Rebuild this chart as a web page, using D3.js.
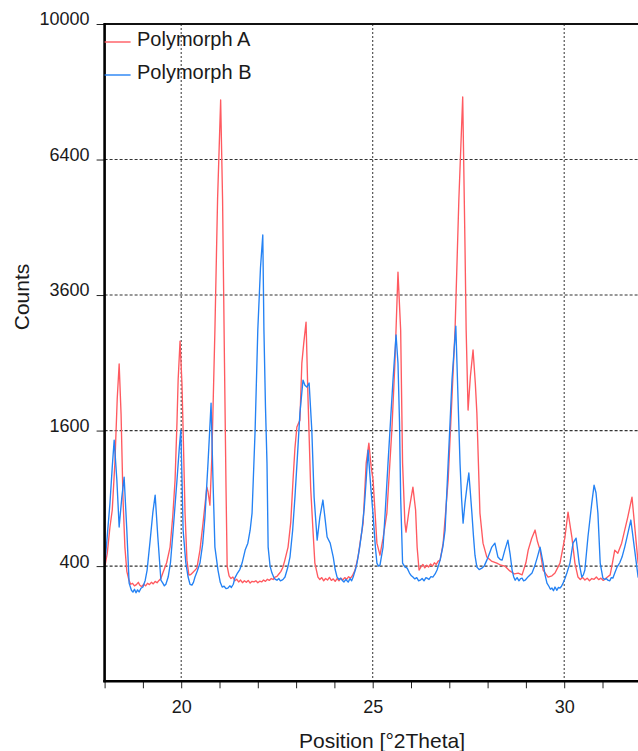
<!DOCTYPE html>
<html>
<head>
<meta charset="utf-8">
<script src="https://cdn.jsdelivr.net/npm/d3@7"></script>
<style>
  body { margin: 0; background: #fff; }
  svg { display: block; }
  text { font-family: "Liberation Sans", Arial, sans-serif; fill: #1a1a1a; }
</style>
</head>
<body>
<svg id="chart" width="638" height="751"></svg>
<script>
// Diffraction patterns of the two polymorphs (position in °2θ, intensity in counts)
const seriesNames = ["Polymorph A", "Polymorph B"];

const posA = [18.01,18.07,18.14,18.20,18.27,18.33,18.38,18.43,18.48,18.53,18.58,18.63,18.68,18.73,18.78,18.83,18.88,18.92,18.97,19.02,19.07,19.12,19.17,19.22,19.27,19.32,19.37,19.42,19.47,19.52,19.62,19.71,19.78,19.84,19.89,19.92,19.97,20.02,20.05,20.10,20.15,20.20,20.25,20.31,20.41,20.49,20.57,20.67,20.70,20.75,20.80,20.88,20.95,21.03,21.08,21.13,21.17,21.20,21.25,21.30,21.35,21.40,21.45,21.50,21.55,21.60,21.65,21.70,21.75,21.80,21.85,21.90,21.95,22.00,22.05,22.10,22.15,22.20,22.25,22.30,22.35,22.40,22.45,22.50,22.55,22.60,22.65,22.70,22.79,22.86,22.92,22.97,23.02,23.10,23.15,23.20,23.26,23.31,23.38,23.44,23.49,23.57,23.62,23.67,23.72,23.77,23.82,23.87,23.92,23.97,24.02,24.07,24.12,24.17,24.22,24.27,24.32,24.37,24.42,24.47,24.54,24.62,24.67,24.75,24.83,24.90,24.96,25.01,25.11,25.19,25.27,25.37,25.50,25.58,25.66,25.73,25.78,25.84,25.87,25.95,26.05,26.12,26.16,26.21,26.26,26.31,26.36,26.41,26.46,26.51,26.56,26.61,26.66,26.71,26.76,26.84,26.97,27.07,27.15,27.25,27.35,27.41,27.44,27.49,27.55,27.62,27.68,27.72,27.80,27.88,27.98,28.10,28.24,28.35,28.45,28.58,28.70,28.80,28.90,29.00,29.06,29.15,29.24,29.30,29.37,29.45,29.58,29.68,29.76,29.89,30.02,30.10,30.20,30.28,30.36,30.42,30.48,30.54,30.60,30.66,30.72,30.78,30.84,30.90,30.96,31.02,31.08,31.14,31.20,31.26,31.32,31.40,31.50,31.66,31.77,31.85,31.93,32.00];
const cntA = [400,480,664,800,1250,2000,2482,1800,900,520,370,325,300,305,292,298,310,295,288,300,292,305,298,310,302,315,308,320,330,360,420,520,750,1069,1700,2252,2831,2200,1606,774,436,349,352,365,388,500,694,1002,960,841,1300,3000,5500,7882,5500,2500,1000,400,345,330,338,318,326,312,322,308,318,310,320,306,315,312,318,308,316,312,322,315,326,320,330,325,338,342,355,368,390,430,520,700,1069,1400,1642,1726,2496,2800,3137,2020,1000,641,418,338,325,335,318,330,322,336,320,328,315,330,318,332,322,335,326,340,332,345,377,460,547,694,1239,1456,1200,1069,547,467,580,774,1606,2496,4018,3006,1239,700,626,800,1002,800,520,377,395,410,390,405,395,412,400,420,410,430,436,547,1069,2020,3006,5500,7962,4500,3006,1851,2300,2692,2200,1813,774,547,455,430,418,405,400,372,355,360,350,420,500,580,641,560,500,377,338,345,360,418,590,782,590,418,338,325,336,322,332,318,330,326,338,324,332,320,330,340,350,420,500,480,547,741,911,641,418,380];

const posB = [18.01,18.07,18.14,18.20,18.25,18.32,18.38,18.45,18.51,18.58,18.64,18.70,18.74,18.78,18.82,18.86,18.90,18.95,19.00,19.06,19.11,19.19,19.26,19.32,19.39,19.47,19.52,19.56,19.60,19.66,19.72,19.79,19.89,19.95,19.99,20.02,20.05,20.12,20.18,20.23,20.28,20.32,20.36,20.42,20.49,20.56,20.62,20.70,20.78,20.83,20.88,20.96,21.02,21.07,21.12,21.17,21.22,21.27,21.31,21.36,21.40,21.47,21.53,21.59,21.67,21.74,21.80,21.85,21.93,22.00,22.07,22.13,22.16,22.20,22.24,22.27,22.32,22.37,22.42,22.46,22.50,22.55,22.59,22.63,22.67,22.71,22.78,22.84,22.91,22.97,23.04,23.10,23.18,23.23,23.28,23.34,23.41,23.47,23.55,23.62,23.70,23.76,23.81,23.89,23.97,24.02,24.07,24.12,24.16,24.20,24.25,24.30,24.36,24.41,24.45,24.49,24.55,24.59,24.66,24.72,24.78,24.83,24.88,24.95,25.01,25.07,25.11,25.15,25.19,25.27,25.33,25.40,25.47,25.53,25.61,25.66,25.70,25.73,25.78,25.84,25.90,25.96,26.01,26.05,26.10,26.15,26.20,26.24,26.29,26.34,26.39,26.42,26.47,26.52,26.57,26.63,26.68,26.76,26.83,26.89,26.97,27.02,27.07,27.17,27.20,27.24,27.28,27.32,27.36,27.41,27.46,27.51,27.55,27.59,27.63,27.67,27.72,27.78,27.85,27.91,27.98,28.05,28.11,28.19,28.27,28.33,28.38,28.45,28.53,28.59,28.64,28.68,28.72,28.77,28.82,28.86,28.90,28.94,28.98,29.06,29.16,29.23,29.30,29.37,29.45,29.50,29.55,29.60,29.64,29.68,29.72,29.76,29.81,29.85,29.89,29.93,29.97,30.02,30.07,30.15,30.23,30.31,30.35,30.39,30.46,30.50,30.54,30.62,30.72,30.78,30.83,30.88,30.94,31.01,31.06,31.10,31.14,31.19,31.23,31.27,31.32,31.38,31.45,31.51,31.58,31.64,31.74,31.83,31.93,32.00];
const cntB = [418,600,858,1200,1490,1069,664,911,1098,641,306,270,261,275,258,272,262,280,286,320,377,568,780,929,590,321,306,292,300,338,420,641,1069,1400,1606,1100,641,420,338,300,296,310,338,372,418,540,741,1239,1941,1069,520,377,310,286,290,278,281,292,284,300,332,360,380,418,500,547,640,774,1606,3006,4100,4742,3006,1900,1239,520,400,360,335,325,321,330,318,321,328,338,390,455,640,911,1350,1813,2252,2180,2155,2210,1606,911,568,741,885,720,590,547,455,380,338,325,332,321,312,325,311,330,318,338,380,418,520,641,820,1069,1378,1000,760,520,418,400,406,520,800,1239,1750,2252,2927,2496,1700,911,418,395,388,360,345,338,328,335,318,321,330,318,335,332,325,340,338,355,377,436,520,641,1239,1700,2252,3071,2496,1800,1239,900,694,860,1002,1138,950,774,600,467,394,380,388,400,436,480,520,547,455,440,436,500,568,470,377,340,321,335,318,330,332,318,321,340,360,400,455,520,418,350,306,290,275,281,268,286,270,284,281,290,306,330,360,418,547,582,500,418,338,350,377,590,858,1021,950,774,418,332,325,330,321,318,335,332,360,394,420,455,520,590,718,520,338,320];

const yTicks = [400, 1600, 3600, 6400, 10000];
const xLabelTicks = [20, 25, 30];
const xMinorTicks = d3.range(18, 33, 1);

const colors = ["#ff5a60", "#2482f4"];

const svg = d3.select("#chart");
const plot = { left: 104.6, top: 24, right: 640.8, bottom: 681.3 };

const x = d3.scaleLinear().domain([18, 32]).range([plot.left, plot.right]);
const y = d3.scaleSqrt().domain([9, 10000]).range([plot.bottom, plot.top]);

svg.append("defs").append("clipPath").attr("id", "plot-clip")
  .append("rect")
  .attr("x", plot.left).attr("y", plot.top)
  .attr("width", plot.right - plot.left).attr("height", plot.bottom - plot.top);

// grid: dashed horizontals, dotted verticals
const grid = svg.append("g");
grid.selectAll("line.h").data(yTicks.filter(v => v < 10000)).join("line")
  .attr("x1", plot.left).attr("x2", plot.right)
  .attr("y1", d => y(d)).attr("y2", d => y(d))
  .attr("stroke", "#333").attr("stroke-width", 1.1).attr("stroke-dasharray", "3,2");
grid.selectAll("line.v").data(xLabelTicks).join("line")
  .attr("x1", d => x(d)).attr("x2", d => x(d))
  .attr("y1", plot.top).attr("y2", plot.bottom)
  .attr("stroke", "#444").attr("stroke-width", 1.1).attr("stroke-dasharray", "2,2");

// patterns
const series = [
  posA.map((p, i) => [p, cntA[i]]),
  posB.map((p, i) => [p, cntB[i]])
];
const line = d3.line().x(d => x(d[0])).y(d => y(d[1]));
svg.append("g").attr("clip-path", "url(#plot-clip)")
  .selectAll("path").data(series).join("path")
  .attr("d", line)
  .attr("fill", "none")
  .attr("stroke", (d, i) => colors[i])
  .attr("stroke-width", 1.35)
  .attr("stroke-linejoin", "round");

// frame: top, left, bottom
svg.append("line").attr("x1", plot.left).attr("x2", plot.right)
  .attr("y1", plot.top).attr("y2", plot.top)
  .attr("stroke", "#111").attr("stroke-width", 2);

// y axis
const yAxis = d3.axisLeft(y).tickValues(yTicks).tickSize(8).tickPadding(7).tickFormat(d3.format("d"));
const gy = svg.append("g").attr("transform", `translate(${plot.left},0)`).call(yAxis);
gy.select(".domain").remove();
gy.selectAll(".tick line").attr("stroke", "#222").attr("stroke-width", 1);
gy.selectAll(".tick text").attr("font-size", 18).attr("dy", "0.05em").attr("fill", "#1a1a1a")
  .attr("font-family", '"Liberation Sans", Arial, sans-serif');

svg.append("line").attr("x1", plot.left).attr("x2", plot.left)
  .attr("y1", plot.top - 1).attr("y2", plot.bottom + 1)
  .attr("stroke", "#000").attr("stroke-width", 2.6);

// x axis: minor ticks every degree, labels every 5°
const xAxis = d3.axisBottom(x).tickValues(xMinorTicks).tickSize(7)
  .tickFormat(d => xLabelTicks.includes(d) ? d : "").tickPadding(12);
const gx = svg.append("g").attr("transform", `translate(0,${plot.bottom})`).call(xAxis);
gx.select(".domain").remove();
gx.selectAll(".tick line").attr("stroke", "#222").attr("stroke-width", 1);
gx.selectAll(".tick text").attr("font-size", 18).attr("fill", "#1a1a1a")
  .attr("font-family", '"Liberation Sans", Arial, sans-serif');

svg.append("line").attr("x1", plot.left - 1.3).attr("x2", plot.right)
  .attr("y1", plot.bottom).attr("y2", plot.bottom)
  .attr("stroke", "#000").attr("stroke-width", 2.6);

// axis titles
svg.append("text")
  .attr("transform", `translate(29,297) rotate(-90)`)
  .attr("text-anchor", "middle").attr("font-size", 21)
  .text("Counts");
svg.append("text")
  .attr("x", 382).attr("y", 748)
  .attr("text-anchor", "middle").attr("font-size", 21)
  .text("Position [°2Theta]");

// legend
const legend = svg.append("g");
seriesNames.forEach((name, i) => {
  const ly = 42 + i * 33;
  legend.append("line")
    .attr("x1", plot.left).attr("x2", plot.left + 26)
    .attr("y1", ly).attr("y2", ly)
    .attr("stroke", colors[i]).attr("stroke-width", 1.4);
  legend.append("text")
    .attr("x", 137).attr("y", ly + 4)
    .attr("font-size", 20)
    .text(name);
});
</script>
</body>
</html>
